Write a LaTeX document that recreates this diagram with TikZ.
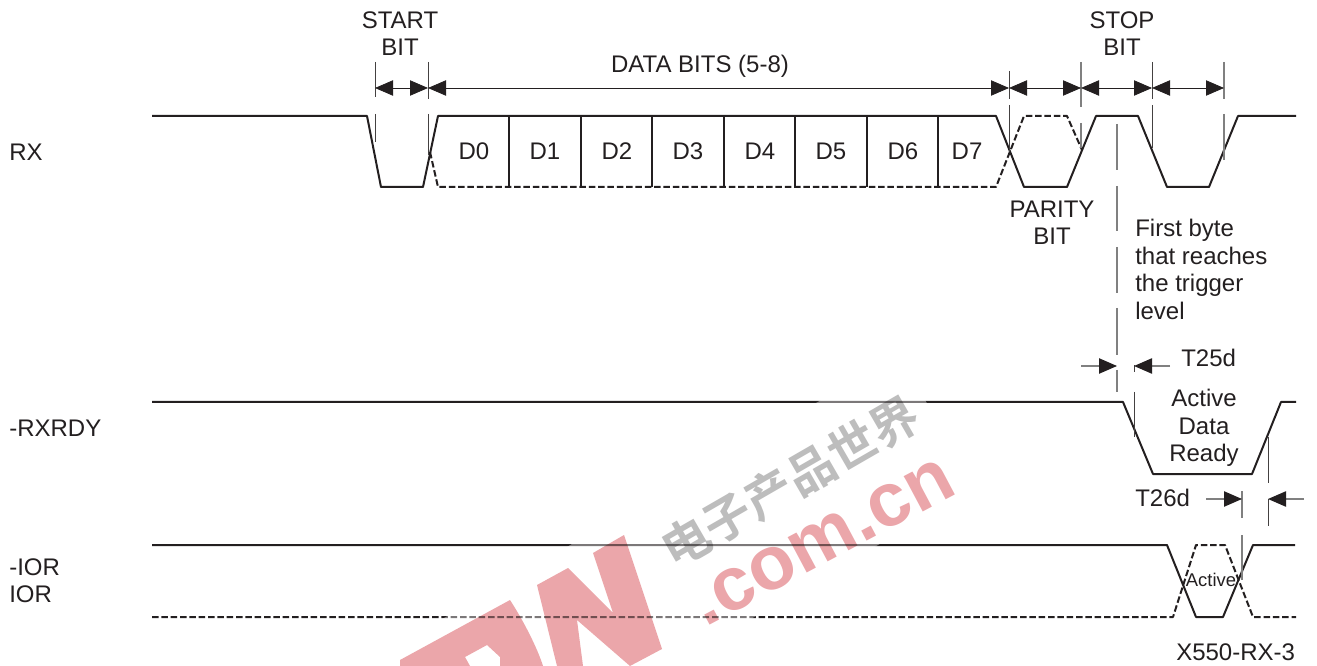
\documentclass[tikz,border=0pt]{standalone}
\usepackage{fontspec}
\setmainfont{Liberation Sans}
\newfontfamily\cjk{Noto Sans CJK SC}[BoldFont=* Bold]
\usetikzlibrary{arrows.meta}
\definecolor{ink}{HTML}{231F20}
\definecolor{wmpink}{HTML}{EBA6AA}
\definecolor{wmgray}{HTML}{BDBDBD}
\tikzset{
	lbl/.style={inner sep=0pt, text=ink, align=center, font=\fontsize{18}{20.6}\selectfont},
	lbll/.style={lbl, align=left, anchor=west},
	wave/.style={line width=1.5pt, draw=ink, line join=round},
	wavedash/.style={wave, dash pattern=on 4.9pt off 2.1pt},
	sep/.style={line width=1.2pt, draw=ink},
	tick/.style={line width=.6pt, draw=ink!85},
	tickg/.style={line width=.9pt, draw=black!50},
	dim/.style={line width=.6pt, draw=ink, {Triangle[length=13.5pt,width=11.5pt,color=ink]}-{Triangle[length=13.5pt,width=11.5pt,color=ink]}},
	dimin/.style={line width=.9pt, draw=black!50, -{Triangle[length=13.5pt,width=11.5pt,color=ink]}},
}
\begin{document}
\begin{tikzpicture}[x=.75pt, y=-.75pt]
	\useasboundingbox (0,0) rectangle (1317,666);

	\coordinate (s0) at (375,88);
	\coordinate (s1) at (428,88);
	\coordinate (s2) at (1009,88);
	\coordinate (s3) at (1081,88);
	\coordinate (s4) at (1152,88);
	\coordinate (s5) at (1224,88);
	\coordinate (t25a) at (1081,366);
	\coordinate (t25b) at (1117,366);
	\coordinate (t25c) at (1170,366);
	\coordinate (t25d) at (1134,366);
	\coordinate (t26a) at (1206,499);
	\coordinate (t26b) at (1242,499);
	\coordinate (t26c) at (1304,499);
	\coordinate (t26d) at (1268,499);

	\draw[wave] (152,116) -- (367,116) -- (381,187) -- (423,187) -- (438,116) -- (996,116) -- (1024,187) -- (1067,187) -- (1096,116) -- (1138,116) -- (1167,187) -- (1209,187) -- (1238,116) -- (1296,116);
	\draw[wavedash] (430,152) -- (438,187) -- (996,187) -- (1024,116) -- (1067,116) -- (1082,150);
	\foreach \x in {509,581,652,724,795,867,938}
		\draw[sep] (\x,116) -- (\x,187);

	\draw[wave] (152,402) -- (1123,402) -- (1153,474) -- (1252,474) -- (1281,402) -- (1296,402);
	\draw[wave] (152,545) -- (1167,545) -- (1196,617) -- (1223,617) -- (1253,545) -- (1295,545);
	\draw[wavedash] (152,617) -- (1173,617) -- (1196,545) -- (1225,545) -- (1253,617) -- (1296,617);

	\draw[tick] (375,62) -- (375,97) (375,114) -- (375,142);
	\draw[tick] (428,62) -- (428,99) (428,114) -- (428,155);
	\draw[tick] (1009,71) -- (1009,99) (1009,105) -- (1009,152);
	\draw[tickg] (1081,62) -- (1081,107) (1081,123) -- (1081,148);
	\draw[tick] (1152,62) -- (1152,99) (1152,105) -- (1152,148);
	\draw[tickg] (1224,62) -- (1224,99) (1224,114) -- (1224,160);
	\foreach \a/\b in {124/170,186/231,247/293,308/355,370/392}
		\draw[tickg] (1117,\a) -- (1117,\b);
	\draw[tick] (1134,365) -- (1134,372) (1134,392) -- (1134,437);
	\draw[tickg] (1242,491) -- (1242,518) (1242,535) -- (1242,580);
	\draw[tick] (1268,437) -- (1268,483) (1268,499) -- (1268,526);

	\draw[dim] (s0) -- (s1);
	\draw[dim] (s1) -- (s2);
	\draw[dim] (s2) -- (s3);
	\draw[dim] (s3) -- (s4);
	\draw[dim] (s4) -- (s5);
	\draw[dimin] (t25a) -- (t25b);
	\draw[dimin] (t25c) -- (t25d);
	\draw[dimin] (t26a) -- (t26b);
	\draw[dimin] (t26c) -- (t26d);

	\fill[white, opacity=.4] (899,355) -- (976,488) -- (670,666) -- (361,666) -- cycle;
	\begin{scope}[blend mode=multiply]
		\fill[wmpink] (537,585) -- (568,568) -- (613,613) -- (593,553) -- (624,535) -- (662,649) -- (630,666) -- (577,620) -- (583,666) -- (557,666) -- cycle;
		\fill[wmpink, even odd rule] (400,660) -- (510,600) .. controls (523,620) and (537,647) .. (543,666) -- (400,666) -- cycle (465,657) -- (487,645) -- (500,657) -- (500,666) -- (470,666) -- cycle;
		\node[rotate=28, inner sep=0pt, text=wmpink, font=\fontsize{57}{60}\bfseries\selectfont] (wmcom) at (823,542) {.com.cn};
		\node[rotate=30, inner sep=0pt, text=wmgray, font=\cjk\fontsize{36}{40}\bfseries\selectfont] (wmcn) at (790,482) {电子产品世界};
	\end{scope}

	\node[lbl] (startbit) at (400,33.5) {START\\BIT};
	\node[lbl] (stopbit) at (1122,33.5) {STOP\\BIT};
	\node[lbl] (databits) at (700,66) {DATA BITS (5-8)};
	\node[lbl] (d0) at (474,151) {D0};
	\node[lbl] (d1) at (545,151) {D1};
	\node[lbl] (d2) at (617,151) {D2};
	\node[lbl] (d3) at (688,151) {D3};
	\node[lbl] (d4) at (760,151) {D4};
	\node[lbl] (d5) at (831,151) {D5};
	\node[lbl] (d6) at (903,151) {D6};
	\node[lbl] (d7) at (967,151) {D7};
	\node[lbl] (parity) at (1052,223) {PARITY\\BIT};
	\node[lbll] (first) at (1135,269.5) {First byte\\that reaches\\the trigger\\level};
	\node[lbll] (t25) at (1181,358) {T25d};
	\node[lbl] (ready) at (1204,428) {Active\\Data\\Ready};
	\node[lbll] (t26) at (1135,498) {T26d};
	\node[lbl, font=\fontsize{13.8}{16}\selectfont] (active) at (1211,580) {Active};
	\node[lbll] (rx) at (9,152) {RX};
	\node[lbll] (rxrdy) at (9,428) {-RXRDY};
	\node[lbll] (ior) at (9,581) {-IOR\\IOR};
	\node[lbll] (part) at (1176,652) {X550-RX-3};
\end{tikzpicture}
\end{document}
